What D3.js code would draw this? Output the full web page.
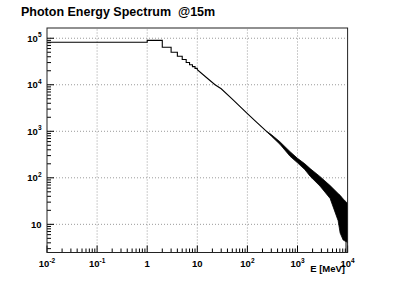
<!DOCTYPE html>
<html><head><meta charset="utf-8">
<script src="https://cdn.jsdelivr.net/npm/d3@7"></script>
<style>
html,body{margin:0;padding:0;background:#fff;}
svg{display:block;}
text{font-family:"Liberation Sans",Arial,Helvetica,sans-serif;white-space:pre;}
</style></head>
<body>
<script>
// ---- data ----
const title = "Photon Energy Spectrum  @15m";
const xTitle = "E [MeV]";
// low-energy 1 MeV bins (lower edges) and counts
const stepLow = [0, 1, 2, 3, 4, 5, 6, 7, 8, 9];
const stepCounts = [82000, 90000, 64000, 50000, 41000, 35000, 30000, 27000, 24500, 22500];
// smooth part of the spectrum
const tailE = [10, 15, 22.6, 30, 50, 100, 150, 250];
const tailCounts = [21000, 14500, 10000, 8200, 4900, 2400, 1590, 960];
// fluctuating part: envelope (upper / lower) of the bin-to-bin fluctuations
const bandE  = [250, 300, 450, 711, 1000, 1400, 1786, 2827, 4477, 6470, 7100, 8150, 9500, 10000];
const bandHi = [975, 850, 590, 365, 262, 200, 158, 106, 68, 46, 42, 35, 30, 28];
const bandLo = [945, 790, 520, 290, 210, 150, 108, 66, 36, 12, 6.5, 4.6, 4.2, 4];
// axis ticks
const xMajor = [0.01, 0.1, 1, 10, 100, 1000, 10000];
const xLabels = [["10","-2"],["10","-1"],["1",""],["10",""],["10","2"],["10","3"],["10","4"]];
const yMajor = [10, 100, 1000, 10000, 100000];
const yLabels = [["10",""],["10","2"],["10","3"],["10","4"],["10","5"]];

const W = 402, H = 281;
const svg = d3.select("body").append("svg").attr("width", W).attr("height", H);

const x = d3.scaleLog().domain([0.01, 1e4]).range([47, 347.6]);
const y = d3.scaleLog().domain([2.48, 1.66e5]).range([252.5, 28]);
const [x0, x1] = x.range(), [y0, y1] = y.range();

// title
svg.append("text").attr("x", 21).attr("y", 16).attr("font-size", 12.5).attr("font-weight", "bold")
  .attr("fill", "#000").attr("xml:space", "preserve").text(title);

// grid
const grid = svg.append("g").attr("stroke", "#9a9a9a").attr("stroke-width", 1).attr("stroke-dasharray", "1,2");
xMajor.filter(v => v > 0.01 && v < 1e4).forEach(v => {
  grid.append("line").attr("x1", x(v)).attr("x2", x(v)).attr("y1", y0).attr("y2", y1);
});
yMajor.forEach(v => {
  grid.append("line").attr("x1", x0).attr("x2", x1).attr("y1", y(v)).attr("y2", y(v));
});

// clip
svg.append("clipPath").attr("id", "cp").append("rect")
  .attr("x", x0).attr("y", y1).attr("width", x1 - x0).attr("height", y0 - y1);
const plot = svg.append("g").attr("clip-path", "url(#cp)");

// step histogram part
const stepPts = [];
stepLow.forEach((lo, i) => {
  const xl = Math.max(lo, x.domain()[0]);
  stepPts.push([x(xl), y(stepCounts[i])]);
  stepPts.push([x(lo + 1), y(stepCounts[i])]);
});
tailE.forEach((e, i) => stepPts.push([x(e), y(tailCounts[i])]));
plot.append("path").attr("d", d3.line()(stepPts)).attr("fill", "none")
  .attr("stroke", "#000").attr("stroke-width", 1.1);

// fluctuation band
const area = d3.area().x((d, i) => x(bandE[i])).y0((d, i) => y(bandLo[i])).y1((d, i) => y(bandHi[i]));
plot.append("path").attr("d", area(bandE)).attr("fill", "#000").attr("stroke", "#000").attr("stroke-width", 0.8);
// single low bins near the end
plot.append("line").attr("x1", x(9300)).attr("x2", x(9300)).attr("y1", y(20)).attr("y2", y0)
  .attr("stroke", "#000").attr("stroke-width", 1);

// ticks
const ticks = svg.append("g").attr("stroke", "#000").attr("stroke-width", 1);
for (let e = -2; e <= 4; e++) {
  for (let m = 1; m <= 9; m++) {
    const v = m * Math.pow(10, e);
    if (v < 0.01 || v > 1e4) continue;
    const len = m === 1 ? 7 : 4;
    ticks.append("line").attr("x1", x(v)).attr("x2", x(v)).attr("y1", y0).attr("y2", y0 - len);
  }
}
for (let e = 0; e <= 5; e++) {
  for (let m = 1; m <= 9; m++) {
    const v = m * Math.pow(10, e);
    if (v < y.domain()[0] || v > y.domain()[1]) continue;
    const len = m === 1 ? 7 : 4;
    ticks.append("line").attr("x1", x0).attr("x2", x0 + len).attr("y1", y(v)).attr("y2", y(v));
  }
}

// frame
svg.append("rect").attr("x", x0).attr("y", y1).attr("width", x1 - x0).attr("height", y0 - y1)
  .attr("fill", "none").attr("stroke", "#222").attr("stroke-width", 1);

// x labels
const xl = svg.append("g").attr("font-size", 9.5).attr("font-weight", "bold").attr("fill", "#000");
xMajor.forEach((v, i) => {
  const t = xl.append("text").attr("x", x(v)).attr("y", 267).attr("text-anchor", "middle");
  t.append("tspan").text(xLabels[i][0]);
  if (xLabels[i][1]) t.append("tspan").attr("dy", -4.5).attr("font-size", 6.5).text(xLabels[i][1]);
});
// y labels
const yl = svg.append("g").attr("font-size", 9.5).attr("font-weight", "bold").attr("fill", "#000");
yMajor.forEach((v, i) => {
  const t = yl.append("text").attr("x", 41.5).attr("y", y(v) + 3.5).attr("text-anchor", "end");
  t.append("tspan").text(yLabels[i][0]);
  if (yLabels[i][1]) t.append("tspan").attr("dy", -4.5).attr("font-size", 6.5).text(yLabels[i][1]);
});
// axis title
svg.append("text").attr("x", 345).attr("y", 272).attr("text-anchor", "end")
  .attr("font-size", 9.5).attr("font-weight", "bold").attr("fill", "#000").text(xTitle);
</script>
</body></html>
